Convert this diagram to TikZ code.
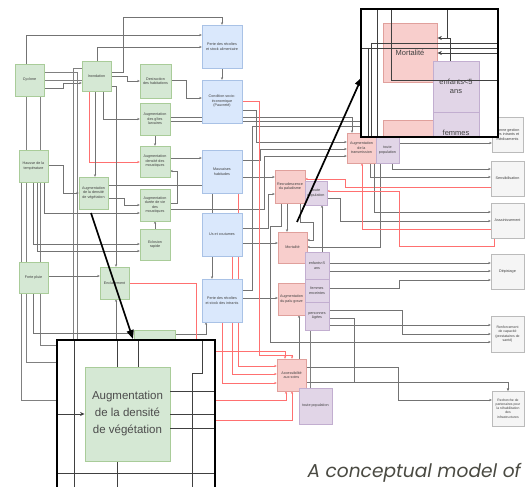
\documentclass[tikz,border=0pt]{standalone}
\usepackage{fontspec}
\setmainfont{Liberation Sans}
\newfontfamily\capfont{Poppins}
\usetikzlibrary{arrows.meta,backgrounds}
\definecolor{gfill}{HTML}{D5E8D4}\definecolor{gdraw}{HTML}{A9CC99}
\definecolor{bfill}{HTML}{DAE8FC}\definecolor{bdraw}{HTML}{A9C2E6}
\definecolor{rfill}{HTML}{F8CECC}\definecolor{rdraw}{HTML}{E0A09C}
\definecolor{pfill}{HTML}{E1D5E7}\definecolor{pdraw}{HTML}{C2AED0}
\definecolor{wfill}{HTML}{F5F5F5}\definecolor{wdraw}{HTML}{BBBBBB}
\definecolor{redln}{HTML}{FF7070}
\definecolor{captxt}{HTML}{4A4A42}
\begin{document}
\begin{tikzpicture}[x=1pt,y=-1pt,
 nbox/.style={rectangle, inner sep=0.5pt, align=center, line width=0.4pt, text=black!75, font=\fontsize{3.7}{4.5}\selectfont},
 gbox/.style={nbox, fill=gfill, draw=gdraw},
 bbox/.style={nbox, fill=bfill, draw=bdraw},
 rbox/.style={nbox, fill=rfill, draw=rdraw},
 pbox/.style={nbox, fill=pfill, draw=pdraw},
 wbox/.style={nbox, fill=wfill, draw=wdraw},
 ln/.style={draw=black!55, line width=0.6pt, -{Stealth[length=2.6pt,width=2.2pt]}},
 lnn/.style={draw=black!50, line width=0.6pt},
 rl/.style={draw=redln, line width=0.6pt, -{Stealth[length=2.6pt,width=2.2pt]}},
 iln/.style={draw=black!75, line width=0.8pt},
 ilnA/.style={iln, -{Stealth[length=4.5pt,width=4pt]}},
 bigarrow/.style={draw=black, line width=1.7pt, -{Triangle[length=9pt,width=7pt]}},
]
\useasboundingbox (0,0) rectangle (531,487);

% ---------- green boxes
\node[gbox, minimum width=29pt, minimum height=32pt] (cyc) at (29.5,80) {Cyclone};
\node[gbox, minimum width=29pt, minimum height=30pt] (inon) at (96.5,76) {Inondation};
\node[gbox, minimum width=31pt, minimum height=34pt] (destr) at (155.5,81) {Destruction\\des habitations};
\node[gbox, minimum width=30pt, minimum height=32pt] (gites) at (155,119) {Augmentation\\des gîtes\\larvaires};
\node[gbox, minimum width=30pt, minimum height=31pt] (densm) at (155,161.5) {Augmentation\\densité des\\moustiques};
\node[gbox, minimum width=29pt, minimum height=32pt] (hausse) at (33.5,166) {Hausse de la\\température};
\node[gbox, minimum width=29pt, minimum height=32pt] (veget) at (93.5,193) {Augmentation\\de la densité\\de végétation};
\node[gbox, minimum width=30pt, minimum height=32pt] (duree) at (155,205) {Augmentation\\durée de vie\\des\\moustiques};
\node[gbox, minimum width=30pt, minimum height=31pt] (eclos) at (155,244.5) {Eclosion\\rapide};
\node[gbox, minimum width=29pt, minimum height=31pt] (pluie) at (33.5,277.5) {Forte pluie};
\node[gbox, minimum width=29pt, minimum height=32pt] (encl) at (114.5,283) {Enclavement};
\node[gbox, minimum width=41pt, minimum height=40pt] (gbot) at (154.5,350) {};

% ---------- blue boxes
\node[bbox, minimum width=40pt, minimum height=43pt] (perteA) at (222,46.5) {Perte des récoltes\\et stock alimentaire};
\node[bbox, minimum width=40pt, minimum height=43pt] (socio) at (222,101.5) {Condition socio-\\économique\\(Pauvreté)};
\node[bbox, minimum width=40pt, minimum height=43pt] (mauv) at (222,171.5) {Mauvaises\\habitudes};
\node[bbox, minimum width=40pt, minimum height=43pt] (usc) at (222,234.5) {Us et coutumes};
\node[bbox, minimum width=40pt, minimum height=43pt] (perteI) at (222,300.5) {Perte des récoltes\\et stock des intrants};

% ---------- red / purple boxes
\node[rbox, minimum width=30pt, minimum height=33pt] (recru) at (290,186.5) {Recrudescence\\du paludisme};
\node[pbox, minimum width=22pt, minimum height=24pt] (tp1) at (316,193) {toute\\population};
\node[rbox, minimum width=29pt, minimum height=30pt] (trans) at (361.5,148) {Augmentation\\de la\\transmission};
\node[pbox, minimum width=23pt, minimum height=26pt] (tp2) at (387.5,150) {toute\\population};
\node[rbox, minimum width=29pt, minimum height=31pt] (mort) at (292.5,247.5) {Mortalité};
\node[rbox, minimum width=27pt, minimum height=32pt] (grave) at (291.5,299) {Augmentation\\du palu grave};
\node[pbox, minimum width=24pt, minimum height=27pt] (enf) at (317,265.5) {enfants<5\\ans};
\node[pbox, minimum width=24pt, minimum height=23pt] (fem) at (317,290.5) {femmes\\enceintes};
\node[pbox, minimum width=24pt, minimum height=28pt] (ages) at (317,316) {personnes\\âgées};
\node[rbox, minimum width=29pt, minimum height=32pt] (acces) at (291.5,375) {Accessibilité\\aux soins};
\node[pbox, minimum width=33pt, minimum height=36pt] (tp3) at (315.5,406) {toute population};

% ---------- grey boxes
\node[wbox, minimum width=31pt, minimum height=35pt] (gestion) at (507.5,134.5) {Bonne gestion\\des intrants et\\médicaments};
\node[wbox, minimum width=33pt, minimum height=35pt] (sensi) at (507.5,178.5) {Sensibilisation};
\node[wbox, minimum width=33pt, minimum height=35pt] (assai) at (507.5,220.5) {Assainissement};
\node[wbox, minimum width=33pt, minimum height=35pt] (depis) at (507.5,271.5) {Dépistage};
\node[wbox, minimum width=33pt, minimum height=36pt, font=\fontsize{3.5}{4.3}\selectfont] (renf) at (507.5,334) {Renforcement\\de capacité\\(prestataires de\\santé)};
\node[wbox, minimum width=32pt, minimum height=35pt, font=\fontsize{3.4}{4.2}\selectfont] (rech) at (508,408.5) {Recherche de\\partenaires pour\\la réhabilitation\\des\\infrastructures};

% ---------- connectors (behind boxes)
\begin{pgfonlayer}{background}
\fill[white] (0,0) rectangle (531,487);
% top
\draw[ln] (inon.east |- 0,72) -- (123,72) |- (222,17) -- (perteA.north);
\draw[ln] (cyc.north -| 26,0) |- (perteA.west |- 0,35);
\draw[ln] (inon.north -| 97,0) |- (perteA.west |- 0,47);
\draw[ln] (cyc.east |- 0,88) -- (63,88) |- (inon.west |- 0,83);
\draw[lnn] (cyc.east |- 0,80) -- (inon.west |- 0,80);
\draw[ln] (inon.east |- 0,76) -- (127,76) |- (destr.west |- 0,81);
\draw[ln] (inon.south -| 103,0) |- (gites.west |- 0,119);
\draw[rl] (inon.south -| 89,0) |- (densm.west |- 0,162);
\draw[ln] (gites.south) -- (densm.north);
\draw[ln] (perteA.south) -- (socio.north);
\draw[ln] (destr.east |- 0,80) -- (186,80) |- (socio.west |- 0,98);
% long verticals towards the bottom
\draw[lnn] (inon.west |- 0,68) -- (73,68) |- (gbot.west |- 0,355);
\draw[lnn] (cyc.east |- 0,72) -- (77,72) |- (gbot.west |- 0,360);
\draw[lnn] (cyc.south -| 26,0) |- (gbot.west |- 0,362);
\draw[lnn] (cyc.south -| 40,0) |- (gbot.west |- 0,345);
\draw[lnn] (hausse.south -| 21,0) -- (21,400) -| (gbot.south);
\draw[ln] (pluie.south -| 33,0) |- (gbot.west |- 0,333);
\draw[ln] (hausse.south -| 44,0) |- (duree.west |- 0,213);
\draw[ln] (hausse.south -| 33,0) |- (eclos.west |- 0,244);
\draw[ln] (hausse.south -| 37,0) |- (eclos.west |- 0,251);
\draw[ln] (hausse.east |- 0,165) -- (63,165) |- (veget.west |- 0,193);
\draw[ln] (veget.east |- 0,198) -- (124,198) |- (duree.west |- 0,205);
\draw[ln] (veget.east |- 0,185) -| (perteI.north -| 212,0);
\draw[ln] (inon.south -| 95,0) -- (veget.north -| 95,0);
\draw[ln] (inon.east |- 0,86) -- (116,86) -- (encl.north -| 116,0);
\draw[ln] (pluie.east |- 0,276) -- (encl.west |- 0,276);
\draw[ln] (gbot.west |- 0,346) -| (encl.south -| 116,0);
\draw[ln] (eclos.north) -- (duree.south);
\draw[ln] (duree.east |- 0,203) -- (177,203) |- (densm.east |- 0,171);
\draw[ln] (densm.east |- 0,158) -- (mauv.west |- 0,158);
% bus to transmission / recrudescence
\draw[ln] (socio.east |- 0,110) -- (256,110) |- (trans.west |- 0,142);
\draw[ln] (mauv.east |- 0,160) -- (260,160) |- (trans.west |- 0,149);
\draw[ln] (duree.east |- 0,209) -- (264,209) |- (trans.west |- 0,156);
\draw[ln] (mauv.east |- 0,177) -- (recru.west |- 0,177);
\draw[ln] (usc.east |- 0,228) -- (268,228) |- (recru.west |- 0,194);
\draw[ln] (gites.east |- 0,117) -| (trans.north -| 352,0);
\draw[ln] (gites.east |- 0,121) -| (tp2.north -| 386,0);
\draw[ln] (perteI.east |- 0,290) -- (252,290) -- (252,126) -| (trans.north -| 368,0);
\draw[ln] (perteI.east |- 0,298) -- (grave.west |- 0,298);
\draw[ln] (usc.east |- 0,243) -- (mort.west |- 0,243);
\draw[ln] (gbot.east |- 0,334) -| (perteI.south -| 206,0);
% red lines to accessibility
\draw[rl] (socio.east |- 0,101) -- (259,101) -- (259,355) -| (acces.north -| 292,0);
\draw[rl] (encl.east |- 0,283) -- (196,283) -- (196,351) -| (acces.north -| 285,0);
\draw[rl] (usc.south -| 232,0) |- (acces.west |- 0,374);
\draw[rl] (perteI.south -| 222,0) |- (acces.west |- 0,383);
\draw[rl] (mauv.south -| 238,0) |- (acces.west |- 0,366);
\draw[rl] (gbot.south) |- (292,420) -- (acces.south -| 292,0);
\draw[rl] (gbot.east |- 0,356) -- (206,356) |- (286,400) -- (acces.south -| 286,0);
% middle
\draw[ln] (recru.south -| 300,0) -- (300,222) -- (313,222) |- (mort.east |- 0,240);
\draw[ln] (enf.north -| 322,0) -- (tp1.south -| 322,0);
\draw[ln] (tp2.south -| 380,0) |- (mort.east |- 0,247);
\draw[ln] (recru.south -| 281,0) -- (281,226) -- (270,226) |- (renf.west |- 0,342);
\draw[ln] (recru.south -| 287,0) -- (mort.north -| 287,0);
\draw[ln] (acces.north -| 299,0) -- (grave.south -| 299,0);
\draw[lnn] (tp3.north -| 310,0) -- (ages.south -| 310,0);
% right side
\draw[ln] (tp2.east |- 0,143) -- (gestion.west |- 0,143);
\draw[ln] (tp2.south -| 392,0) |- (sensi.west |- 0,169);
\draw[ln] (trans.south -| 370,0) |- (sensi.west |- 0,177);
\draw[rl] (sensi.west |- 0,187) -- (345,187) |- (recru.east |- 0,179);
\draw[ln] (trans.south -| 374,0) |- (assai.west |- 0,212);
\draw[ln] (tp1.east |- 0,198) -- (340,198) |- (assai.west |- 0,221);
\draw[rl] (assai.west |- 0,229) -| (trans.south -| 362,0);
\draw[rl] (assai.south -| 494,0) |- (399,246) |- (tp1.east |- 0,191);
\draw[ln] (enf.east |- 0,263) -- (depis.west |- 0,263);
\draw[ln] (enf.east |- 0,271) -- (depis.west |- 0,271);
\draw[ln] (fem.east |- 0,288) -- (399,288) |- (depis.west |- 0,280);
\draw[ln] (ages.east |- 0,325) -- (renf.west |- 0,325);
\draw[ln] (ages.east |- 0,310) -- (402,310) |- (renf.west |- 0,334);
\draw[ln] (acces.east |- 0,367) -- (398,367) |- (rech.west |- 0,400);
\draw[ln] (acces.east |- 0,382) -| (rech.north);
\draw[ln] (ages.east |- 0,318) -- (354,318) |- (rech.north |- 0,382) -- (rech.north);
\end{pgfonlayer}

% ---------- magnified inset, top right
\begin{scope}
\clip (361,9) rectangle (498,137);
\fill[white] (361,9) rectangle (498,137);
\draw[iln] (377,9) -- (377,137);
\draw[iln] (368,48) -- (368,137);
\draw[iln] (371,43) -- (371,137);
\draw[iln] (447,9) -- (447,38);
\node[rbox, minimum width=54pt, minimum height=59pt, font=\fontsize{7.5}{9}\selectfont, line width=0.8pt] (imort) at (410,52.5) {Mortalité};
\node[rbox, minimum width=50pt, minimum height=50pt, line width=0.8pt] (ired) at (408,145) {};
\node[pbox, minimum width=46pt, minimum height=51pt, font=\fontsize{7.5}{9}\selectfont, line width=0.8pt] (ienf) at (456,86.5) {enfants<5\\ans};
\node[pbox, minimum width=46pt, minimum height=50pt, font=\fontsize{7.5}{9}\selectfont, line width=0.8pt] (ifem) at (456,137) {femmes\\enceintes};
\coordinate (iL1) at (362,48); \coordinate (iR0) at (498,48);
\coordinate (iL2) at (371,43); \coordinate (iR2) at (498,43);
\coordinate (iR1) at (498,53); \coordinate (iR3) at (498,80);
\coordinate (iT1) at (391,9);
\draw[iln] (iL1) -- (iR0);
\draw[iln] (iL2) -- (iR2);
\draw[iln] (iT1) -- (391,80) -- (iR3);
\draw[ilnA] (ienf.north -| 450,0) |- (imort.east |- 0,38);
\draw[ilnA] (iR1) -- (imort.east |- 0,53);
\end{scope}
\draw[line width=1.1pt] (361,9) rectangle (498,137);

% ---------- magnified inset, bottom left
\begin{scope}
\clip (57,340) rectangle (215,488);
\fill[white] (57,340) rectangle (215,488);
\draw[iln] (74,340) -- (74,488);
\draw[iln] (117,340) -- (117,488);
\draw[iln] (138,340) -- (138,367);
\draw[iln] (202,340) -- (202,373) -- (192,373) -- (192,488);
\draw[iln] (57,473) -- (215,473);
\node[gbox, minimum width=85pt, minimum height=94pt, font=\fontsize{11.5}{17}\selectfont, line width=0.9pt, text=black!70] (iveg) at (127.5,414) {Augmentation\\de la densité\\de végétation};
\coordinate (jR1) at (215,391); \coordinate (jR2) at (215,414);
\coordinate (jR3) at (215,428); \coordinate (jL1) at (57,414);
\draw[iln] (iveg.east |- 0,391) -- (jR1);
\draw[iln] (iveg.east |- 0,414) -- (jR2);
\draw[iln] (iveg.east |- 0,428) -- (jR3);
\draw[ilnA] (jL1) -- (iveg.west |- 0,414);
\end{scope}
\draw[line width=1.1pt] (57,488) -- (57,340) -- (215,340) -- (215,488);

% ---------- pointer arrows
\coordinate (p1s) at (91,213); \coordinate (p1e) at (133,339);
\coordinate (p2s) at (297,222); \coordinate (p2e) at (362,77);
\draw[bigarrow] (p1s) -- (p1e);
\draw[bigarrow] (p2s) -- (p2e);

% ---------- caption
\node[font=\capfont\itshape\fontsize{18.6}{22}\selectfont, text=captxt, anchor=base east, inner sep=0pt] (cap) at (521,477) {A conceptual model of};
\end{tikzpicture}
\end{document}
